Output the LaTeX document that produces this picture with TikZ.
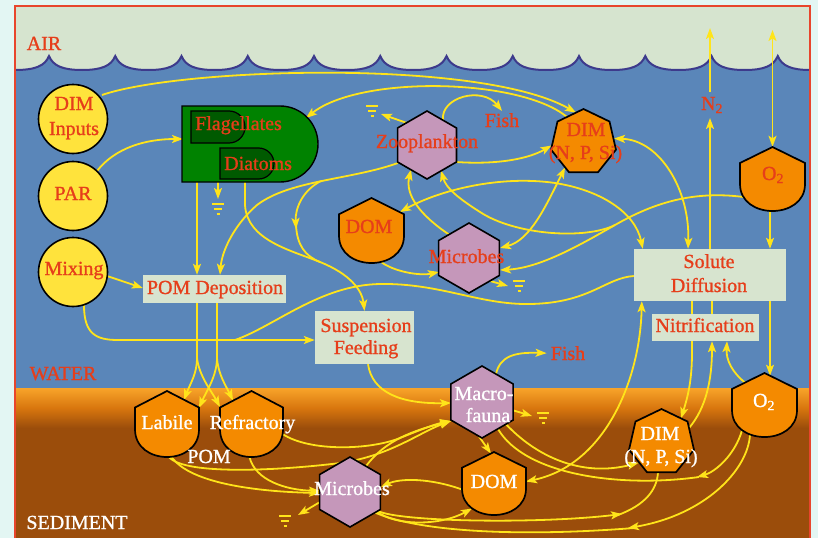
\documentclass[tikz,border=0pt]{standalone}
\usepackage{fontspec}
\setmainfont{Liberation Serif}
\newfontfamily\lblfont{Liberation Serif}[FakeBold=1.0]
\usetikzlibrary{arrows.meta,shapes.geometric,calc}
\definecolor{mint}{HTML}{E3F6F3}
\definecolor{framered}{HTML}{E8452C}
\definecolor{aircol}{HTML}{D6E4CF}
\definecolor{watercol}{HTML}{5A86B9}
\definecolor{wavecol}{HTML}{3D3A8C}
\definecolor{sedtop}{HTML}{F8A42A}
\definecolor{sedmid}{HTML}{D8760E}
\definecolor{sedbot}{HTML}{9B4D0B}
\definecolor{ylw}{HTML}{FFE41A}
\definecolor{circcol}{HTML}{FFE33C}
\definecolor{txtred}{HTML}{E63E1A}
\definecolor{grn}{HTML}{008200}
\definecolor{dgrn}{HTML}{005A00}
\definecolor{lilac}{HTML}{C597BA}
\definecolor{orng}{HTML}{F48A00}
\definecolor{boxcol}{HTML}{D7E4CF}
\pgfdeclarelayer{bgl}
\pgfdeclarelayer{linel}
\pgfsetlayers{bgl,linel,main}
\newcommand\shieldat[5]{%
  \pgfmathsetmacro\shHW{#4/2}%
  \pgfmathsetmacro\shHH{#5/2}%
  \pgfmathsetmacro\shS{-#5/4}%
  \pgfmathsetmacro\shL{#5*0.08}%
  \pgfmathsetmacro\shC{#5*0.36}%
  \pgfmathsetmacro\shQ{#4/4}%
  \draw[shieldsty,shift={(#2,#3)}] (-\shHW,\shS) -- (0,-\shHH) -- (\shHW,\shS) -- (\shHW,\shL) .. controls (\shHW,\shC) and (\shQ,\shHH) .. (0,\shHH) .. controls (-\shQ,\shHH) and (-\shHW,\shC) .. (-\shHW,\shL) -- cycle;
  \node[inner sep=0pt,minimum width=#4pt,minimum height=#5pt] (#1) at (#2,#3) {};%
}
\tikzset{
  pics/gnd/.style={code={\draw[ylw,line width=1.6pt] (-6,0)--(6,0) (-4,5)--(4,5) (-1.5,10)--(1.5,10);}},
  wavep/.style={insert path={
   .. controls (35,70) and (45,66) .. (49,56)
   .. controls (53,66) and (63,70) .. (82.125,70) .. controls (101.25,70) and (111.25,66) .. (115.25,56)
   .. controls (119.25,66) and (129.25,70) .. (148.375,70) .. controls (167.5,70) and (177.5,66) .. (181.5,56)
   .. controls (185.5,66) and (195.5,70) .. (214.625,70) .. controls (233.75,70) and (243.75,66) .. (247.75,56)
   .. controls (251.75,66) and (261.75,70) .. (280.875,70) .. controls (300,70) and (310,66) .. (314,56)
   .. controls (318,66) and (328,70) .. (347.125,70) .. controls (366.25,70) and (376.25,66) .. (380.25,56)
   .. controls (384.25,66) and (394.25,70) .. (413.375,70) .. controls (432.5,70) and (442.5,66) .. (446.5,56)
   .. controls (450.5,66) and (460.5,70) .. (479.625,70) .. controls (498.75,70) and (508.75,66) .. (512.75,56)
   .. controls (516.75,66) and (526.75,70) .. (545.875,70) .. controls (565,70) and (575,66) .. (579,56)
   .. controls (583,66) and (593,70) .. (612.125,70) .. controls (631.25,70) and (641.25,66) .. (645.25,56)
   .. controls (649.25,66) and (659.25,70) .. (678.375,70) .. controls (697.5,70) and (707.5,66) .. (711.5,56)
   .. controls (715.5,66) and (725.5,70) .. (744.625,70) .. controls (763.75,70) and (773.75,66) .. (777.75,56)
   .. controls (781.75,66) and (791.75,70) .. (810,70)}}
}
\begin{document}
\begin{tikzpicture}[x=1pt,y=-1pt,
  >={Stealth[length=11pt,width=8pt,inset=2.5pt]},
  flow/.style={draw=ylw,line width=1.8pt,->},
  flow2/.style={draw=ylw,line width=1.8pt,<->},
  plain/.style={draw=ylw,line width=1.8pt},
  lbl/.style={font=\lblfont\fontsize{20}{24}\selectfont,text=txtred,inner sep=0pt},
  wlbl/.style={lbl,text=white},
  circnode/.style={circle,draw=black,line width=1.6pt,fill=circcol,inner sep=0pt,minimum size=69pt},
  hexa/.style={regular polygon,regular polygon sides=6,shape border rotate=30,draw=black,line width=1.6pt,fill=lilac,inner sep=0pt},
  hepta/.style={regular polygon,regular polygon sides=7,draw=black,line width=1.7pt,fill=orng,inner sep=0pt,minimum size=66.6pt},
  pbox/.style={fill=boxcol,inner sep=0pt},
  shieldsty/.style={draw=black,line width=1.7pt,fill=orng}]
\useasboundingbox (0,0) rectangle (818,538);
% ---------------- background
\begin{pgfonlayer}{bgl}
\fill[mint] (0,0) rectangle (818,538);
\fill[watercol] (15,50) rectangle (810,390);
\fill[aircol] (15,6) -- (15,70) [wavep] -- (810,6) -- cycle;
\draw[wavecol,line width=2pt] (15,70) [wavep];
\shade[top color=sedtop,bottom color=sedbot,middle color=sedmid] (15,388) rectangle (810,428);
\fill[sedbot] (15,427.5) rectangle (810,538);
\draw[framered,line width=2.5pt] (15,538) -- (15,6) -- (810,6) -- (810,538);
\end{pgfonlayer}
% ---------------- shapes
\node[circnode] (dimin) at (73,119) {};
\node[circnode] (par) at (73,196) {};
\node[circnode] (mix) at (73,272) {};
\draw[fill=grn,draw=black,line width=1.4pt] (182,106) -- (280,106) arc[start angle=-90,end angle=90,radius=38] -- (182,182) -- cycle;
\draw[fill=dgrn,draw=black,line width=1.2pt] (191,111) -- (229,111) arc[start angle=-90,end angle=90,radius=16] -- (191,143) -- cycle;
\draw[fill=dgrn,draw=black,line width=1.2pt] (220,148) -- (258.5,148) arc[start angle=-90,end angle=90,radius=15.5] -- (220,179) -- cycle;
\node[inner sep=0pt,minimum width=136pt,minimum height=76pt] (phyto) at (250,144) {};
\node[pbox,minimum width=143pt,minimum height=28pt] (pomdep) at (214.5,289) {};
\node[pbox,minimum width=99pt,minimum height=53pt] (susp) at (364.5,337.5) {};
\node[pbox,minimum width=152pt,minimum height=52pt] (sd) at (710,275) {};
\node[pbox,minimum width=107pt,minimum height=27pt] (nitr) at (705.5,327.5) {};
\node[hexa,minimum size=68pt] (zoo) at (427,145) {};
\node[hexa,minimum size=70pt] (micw) at (469,258) {};
\node[hexa,minimum size=72pt] (macro) at (482,402) {};
\node[hexa,minimum size=70pt] (mics) at (350,492) {};
\shieldat{domw}{371.5}{230.5}{65}{65}
\node[hepta] (dimw) at (583.5,142.3) {};
\shieldat{o2w}{772.5}{179}{65}{64}
\shieldat{labile}{167}{424}{64}{66}
\shieldat{refr}{251.5}{424}{63}{66}
\shieldat{doms}{494}{483.5}{64}{63}
\node[hepta] (dims) at (661.5,442.3) {};
\shieldat{o2s}{764.5}{405}{65}{64}
% ---------------- texts
\node[lbl,anchor=base] (tair) at (44,50) {AIR};
\node[lbl,anchor=base] (twater) at (63,380) {WATER};
\node[wlbl,anchor=base] (tsed) at (77,529) {SEDIMENT};
\node[lbl,anchor=base] (tdim1) at (74,110) {DIM};
\node[lbl,anchor=base] (tinp) at (74,135) {Inputs};
\node[lbl,anchor=base] (tpar) at (73,200) {PAR};
\node[lbl,anchor=base] (tmix) at (74,275) {Mixing};
\node[lbl,anchor=base west] (tflag) at (195,130) {Flagellates};
\node[lbl,anchor=base west] (tdiat) at (224,170) {Diatoms};
\node[lbl,anchor=base] (tpomdep) at (215,294) {POM Deposition};
\node[lbl,anchor=base] (tsusp1) at (366,332) {Suspension};
\node[lbl,anchor=base] (tsusp2) at (366,354) {Feeding};
\node[lbl,anchor=base] (tzoo) at (427,148) {Zooplankton};
\node[lbl,anchor=base] (tfish1) at (502,127) {Fish};
\node[lbl,anchor=base] (tdimw1) at (586,136) {DIM};
\node[lbl,anchor=base] (tdimw2) at (585.5,159) {(N, P, Si)};
\node[lbl,anchor=base] (tdomw) at (369,233) {DOM};
\node[lbl,anchor=base] (tmicw) at (466.5,263) {Microbes};
\node[lbl,anchor=base] (tn2) at (712,110) {N\textsubscript{2}};
\node[lbl,anchor=base] (to2w) at (773,180) {O\textsubscript{2}};
\node[lbl,anchor=base] (tsd1) at (709,268) {Solute};
\node[lbl,anchor=base] (tsd2) at (709,292) {Diffusion};
\node[lbl,anchor=base] (tnitr) at (705,332) {Nitrification};
\node[lbl,anchor=base] (tfish2) at (568,360) {Fish};
\node[wlbl,anchor=base] (tmac1) at (484,400) {Macro-};
\node[wlbl,anchor=base] (tmac2) at (488,422) {fauna};
\node[wlbl,anchor=base] (tlab) at (167,429) {Labile};
\node[wlbl,anchor=base] (tref) at (252.5,429) {Refractory};
\node[wlbl,anchor=base] (tpom) at (209,463) {POM};
\node[wlbl,anchor=base] (tmics) at (352,495) {Microbes};
\node[wlbl,anchor=base] (tdoms) at (494,488) {DOM};
\node[wlbl,anchor=base] (tdims1) at (660,440) {DIM};
\node[wlbl,anchor=base] (tdims2) at (661,463) {(N, P, Si)};
\node[wlbl,anchor=base] (to2s) at (764,407) {O\textsubscript{2}};
% ---------------- sinks and junctions
\coordinate (g1) at (218,204);
\coordinate (g2) at (372,106);
\coordinate (g3) at (519,281);
\coordinate (g4) at (543,413);
\coordinate (g5) at (285,516);
\pic at (g1) {gnd};
\pic at (g2) {gnd};
\pic at (g3) {gnd};
\pic at (g4) {gnd};
\pic at (g5) {gnd};
\coordinate (msplit) at (235,340);
\coordinate (dsjoin) at (320,262);
\coordinate (zsplit) at (321,181);
\coordinate (zmid) at (296,229);
\coordinate (o2split) at (615,225);
\coordinate (pd1) at (197,358);
\coordinate (pd2) at (217,358);
\coordinate (o2air) at (772.5,30);
\coordinate (n2air) at (710,28);
\coordinate (oa) at (628,528);
\coordinate (md) at (622,514);
\coordinate (om) at (697,477);
% ---------------- connectors
\begin{pgfonlayer}{linel}
\draw[flow] ($(dimin)+(29,-24)$) .. controls (180,68) and (480,58) .. ($(dimw)+(-7.5,-29.7)$);
\draw[flow] ($(dimw)+(-16.5,-25.3)$) .. controls (520,78) and (360,75) .. ($(phyto)+(56,-26)$);
\draw[flow] ($(par)+(24,-25)$) .. controls (115,148) and (145,139) .. ($(phyto)+(-67,-5)$);
\draw[flow] ($(mix)+(34,4)$) -- ($(pomdep.west)+(0,-1)$);
\draw[flow] ($(mix)+(11,33)$) .. controls (84,334) and (96,340) .. (118,340) -- ($(susp.west)+(0,2.5)$);
\draw[plain] (msplit) .. controls (275,326) and (320,285) .. (380,284) .. controls (440,283) and (480,305) .. (530,304) .. controls (590,303) and (605,278) .. ($(sd.west)+(0,1)$);
\draw[flow] ($(phyto)+(-32,38)$) -- ($(g1)+(0,-5)$);
\draw[flow] ($(phyto)+(-53,38)$) -- ($(pomdep.north)+(-17.5,0)$);
\draw[flow] ($(phyto)+(-5,38)$) -- (245,205) .. controls (247,240) and (290,250) .. (dsjoin) .. controls (350,274) and (362,290) .. (susp.north);
\draw[flow] ($(zoo)+(-29,18)$) .. controls (350,180) and (290,180) .. (257,205) .. controls (235,224) and (222,250) .. ($(pomdep.north)+(5.5,0)$);
\draw[flow] (zsplit) .. controls (303,190) and (295,208) .. (zmid);
\draw[plain] ($(zmid)+(0,-4)$) .. controls (297,245) and (305,256) .. (dsjoin);
\draw[flow] ($(zoo)+(-20,-22)$) -- ($(g2)+(9,8)$);
\draw[flow] ($(zoo)+(16,-24.5)$) .. controls (440,97) and (482,86) .. ($(tfish1.north)+(0,-2)$);
\draw[flow] ($(zoo)+(29,17)$) .. controls (500,165) and (530,158) .. ($(dimw)+(-32,3.2)$);
\draw[flow] ($(micw)+(-20,-23.5)$) .. controls (420,215) and (405,195) .. ($(zoo)+(-16,24.5)$);
\draw[plain] ($(o2w)+(-29,18)$) .. controls (690,190) and (650,205) .. (o2split);
\draw[flow] (o2split) .. controls (585,240) and (515,235) .. (480,212) .. controls (458,198) and (446,188) .. ($(zoo)+(14,25.5)$);
\draw[flow] (o2split) .. controls (580,245) and (540,268) .. ($(micw)+(31,12)$);
\draw[flow2] ($(domw)+(28.5,-18.5)$) .. controls (440,190) and (500,175) .. (555,183) .. controls (600,190) and (635,212) .. ($(sd.north west)+(9,0)$);
\draw[flow] ($(domw)+(9.5,31.5)$) .. controls (395,272) and (420,276) .. ($(micw)+(-30,14)$);
\draw[flow] ($(micw)+(21,23)$) -- ($(g3)+(-11,5)$);
\draw[flow2] ($(dimw)+(-18.5,25.2)$) .. controls (545,208) and (530,240) .. ($(micw)+(31,-10)$);
\draw[flow2] ($(dimw)+(30.5,-3.8)$) .. controls (660,140) and (690,190) .. ($(sd.north)+(-22,0)$);
\draw[flow] ($(o2w)+(-2.5,32)$) -- ($(sd.north)+(60,0)$);
\draw[flow2] (o2w.north) -- (o2air);
\draw[flow] (sd.north) -- ($(tn2.base)+(-2,8)$);
\draw[flow] ($(tn2.base)+(-2,-18)$) -- (n2air);
\draw[flow] ($(pomdep.south)+(-17.5,0)$) -- (pd1) .. controls (197,374) and (190,384) .. ($(labile)+(17,-24)$);
\draw[flow] (pd1) .. controls (199,376) and (212,392) .. ($(refr)+(-31.5,-17)$);
\draw[flow] ($(pomdep.south)+(2.5,0)$) -- (pd2) .. controls (217,376) and (206,392) .. ($(labile)+(32,-16)$);
\draw[flow] (pd2) .. controls (218,374) and (226,386) .. ($(refr)+(-18.5,-23.5)$);
\draw[flow] ($(susp.south)+(3.5,0)$) .. controls (372,392) and (400,404) .. ($(macro)+(-31,1)$);
\draw[flow] ($(macro)+(14,-28)$) .. controls (500,356) and (515,352) .. ($(tfish2.west)+(-4,0)$);
\draw[flow] ($(macro)+(30,8)$) -- ($(g4)+(-11,3)$);
\draw[flow] ($(macro)+(-3,34.5)$) -- ($(doms)+(-3,-30)$);
\draw[flow] ($(macro)+(24,22.2)$) .. controls (535,455) and (580,478) .. ($(dims)+(-23,20.5)$);
\draw[flow] ($(labile)+(2,33)$) .. controls (185,476) and (285,470) .. (340,463) .. controls (390,456) and (420,432) .. ($(macro)+(-31,19)$);
\draw[flow] ($(refr)+(31,10)$) .. controls (310,452) and (370,450) .. (400,438) .. controls (420,430) and (435,424) .. ($(macro)+(-31,19)$);
\draw[flow] ($(mics)+(16,-25.8)$) .. controls (385,440) and (415,430) .. ($(macro)+(-31,19)$);
\draw[flow] ($(labile)+(4,32)$) .. controls (190,486) and (270,492) .. ($(mics)+(-30,1)$);
\draw[flow] ($(refr)+(-2,33)$) .. controls (255,480) and (285,490) .. ($(mics)+(-30,-1)$);
\draw[flow] ($(mics)+(-30,10)$) -- ($(g5)+(13,-1)$);
\draw[flow] ($(doms)+(-32,6)$) .. controls (430,478) and (400,478) .. ($(mics)+(31,-5)$);
\draw[flow] ($(mics)+(27,19.5)$) .. controls (395,526) and (440,526) .. ($(doms)+(-22,25)$);
\draw[flow2] ($(sd.south west)+(8,0)$) .. controls (640,380) and (605,465) .. ($(doms)+(32,-2)$);
\draw[flow] ($(sd.south)+(-18,0)$) -- (692,352) .. controls (692,380) and (688,396) .. ($(dims)+(19.5,-23.9)$);
\draw[flow] ($(dims)+(27.5,-14.3)$) .. controls (706,408) and (712,380) .. ($(nitr.south)+(6.5,0)$);
\draw[plain] ($(nitr.north)+(6.5,0)$) -- ($(sd.south)+(2,0)$);
\draw[flow] ($(o2s)+(-19.5,-22.4)$) .. controls (732,372) and (726,360) .. ($(nitr.south)+(21.5,0)$);
\draw[flow] ($(sd.south)+(60,0)$) -- ($(o2s)+(5.5,-29.3)$);
% O2 sediment -> microbes (mid arrow)
\draw[flow] ($(o2s)+(-14.5,29.6)$) .. controls (748,470) and (705,515) .. (oa);
\draw[plain] ($(oa)+(6,0)$) .. controls (520,537) and (420,532) .. ($(mics)+(25,20.6)$);
% microbes -> DIM sediment (mid arrow)
\draw[flow] ($(mics)+(28,19)$) .. controls (400,522) and (540,524) .. (md);
\draw[plain] ($(md)+(-4,1)$) .. controls (645,505) and (657,490) .. ($(dims)+(-3.5,30)$);
% O2 sediment -> macrofauna (mid arrow)
\draw[flow] ($(o2s)+(-22.5,25.3)$) .. controls (735,455) and (715,472) .. (om);
\draw[plain] ($(om)+(2,0)$) .. controls (620,488) and (525,475) .. ($(macro)+(16,27)$);
\end{pgfonlayer}
\end{tikzpicture}
\end{document}
